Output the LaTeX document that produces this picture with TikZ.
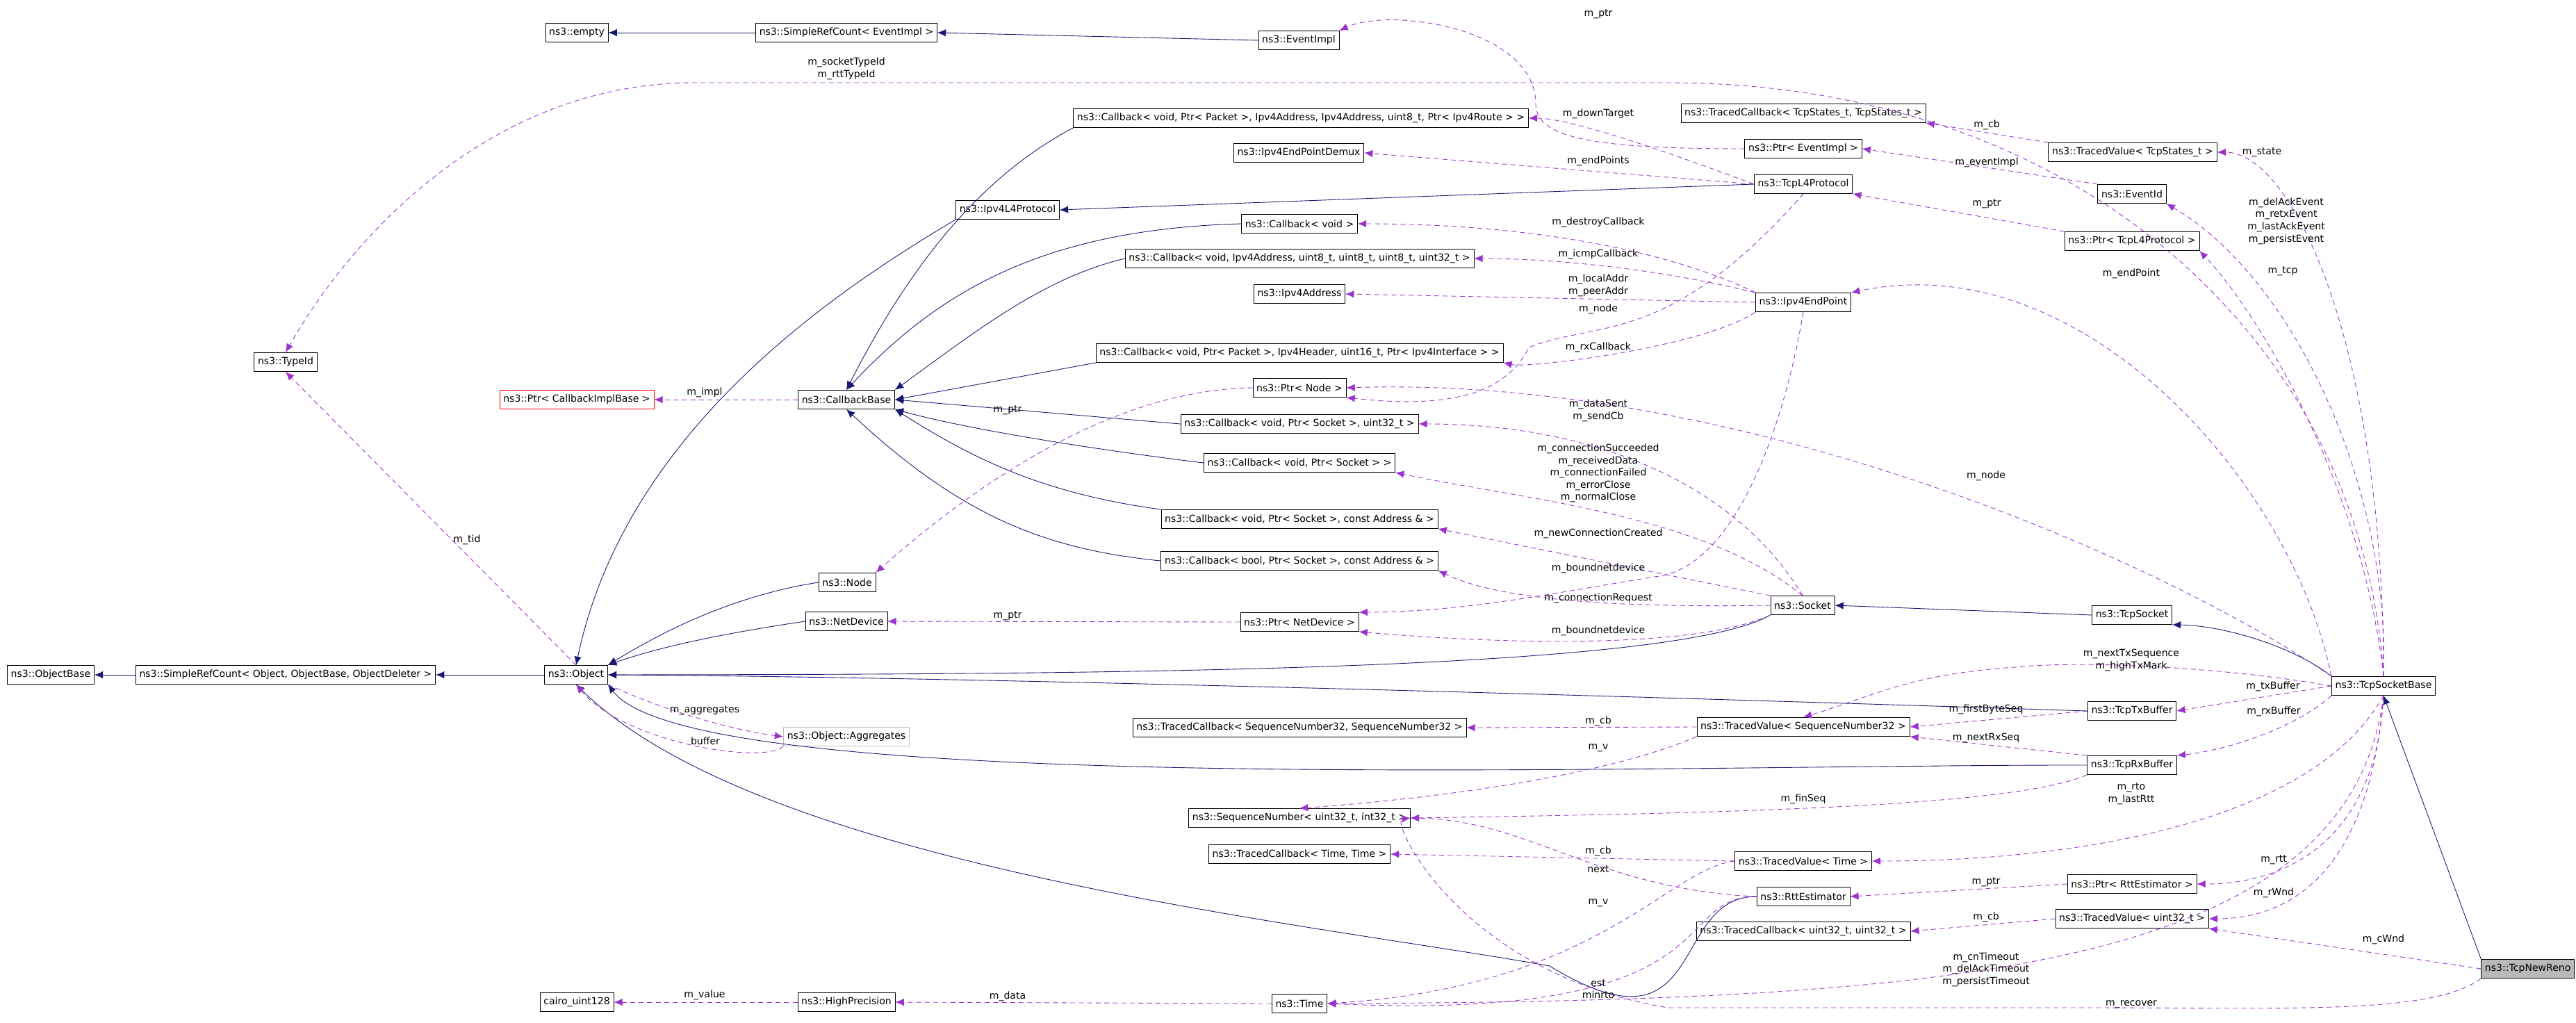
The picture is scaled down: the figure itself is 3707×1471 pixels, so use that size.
\documentclass[tikz,border=0pt]{standalone}
\usepackage{fontspec}
\setmainfont{DejaVu Sans}
\usetikzlibrary{arrows.meta, positioning}

\definecolor{inhblue}{HTML}{191970}
\definecolor{relpurple}{HTML}{9A32CD}

\tikzset{
  cls/.style={draw=black, fill=white, inner xsep=3pt, inner ysep=0pt,
    minimum height=15.5pt, font=\fontsize{8}{9}\selectfont},
  inh/.style={draw=inhblue, -{Latex[length=7pt,width=6pt]}, line width=0.5pt},
  rel/.style={draw=relpurple, dash pattern=on 4pt off 3pt, -{Latex[length=7pt,width=6pt]}, line width=0.5pt},
  lbl/.style={inner sep=0pt, align=center, font=\fontsize{8}{10}\selectfont}
}

\begin{document}
\begin{tikzpicture}[x=0.02cm, y=-0.02cm]
\useasboundingbox (0,0) rectangle (3707,1471);
% classes
\node[cls] (empty) at (830,47) {ns3::empty};
\node[cls] (srcevent) at (1218,47) {ns3::SimpleRefCount< EventImpl >};
\node[cls] (eventimpl) at (1869,58) {ns3::EventImpl};
\node[cls] (typeid) at (411,521) {ns3::TypeId};
\node[cls, draw=red] (ptrcib) at (830,575) {ns3::Ptr< CallbackImplBase >};
\node[cls] (cbase) at (1218,575) {ns3::CallbackBase};
\node[cls] (node) at (1219,838) {ns3::Node};
\node[cls] (netdev) at (1218,894) {ns3::NetDevice};
\node[cls] (objbase) at (73,971) {ns3::ObjectBase};
\node[cls] (srcobj) at (411,971) {ns3::SimpleRefCount< Object, ObjectBase, ObjectDeleter >};
\node[cls] (object) at (829,971) {ns3::Object};
\node[cls, draw=gray!50] (aggr) at (1218,1060) {ns3::Object::Aggregates};
\node[cls] (cairo) at (830,1442) {cairo\_uint128};
\node[cls] (hiprec) at (1218,1442) {ns3::HighPrecision};
\node[cls] (ipv4l4) at (1450,302) {ns3::Ipv4L4Protocol};
\node[cls] (cbdown) at (1872,170) {ns3::Callback< void, Ptr< Packet >, Ipv4Address, Ipv4Address, uint8\_t, Ptr< Ipv4Route > >};
\node[cls] (demux) at (1869,220) {ns3::Ipv4EndPointDemux};
\node[cls] (cbvoid) at (1870,322) {ns3::Callback< void >};
\node[cls] (cbicmp) at (1870,372) {ns3::Callback< void, Ipv4Address, uint8\_t, uint8\_t, uint8\_t, uint32\_t >};
\node[cls] (ipv4addr) at (1870,423) {ns3::Ipv4Address};
\node[cls] (cbrx) at (1870,508) {ns3::Callback< void, Ptr< Packet >, Ipv4Header, uint16\_t, Ptr< Ipv4Interface > >};
\node[cls] (ptrnode) at (1870,558) {ns3::Ptr< Node >};
\node[cls] (cbsent) at (1870,610) {ns3::Callback< void, Ptr< Socket >, uint32\_t >};
\node[cls] (cbsock) at (1870,666) {ns3::Callback< void, Ptr< Socket > >};
\node[cls] (cbaddr) at (1870,747) {ns3::Callback< void, Ptr< Socket >, const Address \& >};
\node[cls] (cbbool) at (1870,807) {ns3::Callback< bool, Ptr< Socket >, const Address \& >};
\node[cls] (ptrnetdev) at (1870,895) {ns3::Ptr< NetDevice >};
\node[cls] (tcbseq) at (1870,1047) {ns3::TracedCallback< SequenceNumber32, SequenceNumber32 >};
\node[cls] (seqnum) at (1870,1177) {ns3::SequenceNumber< uint32\_t, int32\_t >};
\node[cls] (tcbtime) at (1870,1229) {ns3::TracedCallback< Time, Time >};
\node[cls] (time) at (1870,1444) {ns3::Time};
\node[cls] (tcbstate) at (2595,163) {ns3::TracedCallback< TcpStates\_t, TcpStates\_t >};
\node[cls] (ptrevent) at (2595,214) {ns3::Ptr< EventImpl >};
\node[cls] (tcpl4) at (2595,265) {ns3::TcpL4Protocol};
\node[cls] (endpoint) at (2595,435) {ns3::Ipv4EndPoint};
\node[cls] (socket) at (2594,871) {ns3::Socket};
\node[cls] (tvseq) at (2595,1046) {ns3::TracedValue< SequenceNumber32 >};
\node[cls] (tvtime) at (2595,1239) {ns3::TracedValue< Time >};
\node[cls] (rttest) at (2595,1290) {ns3::RttEstimator};
\node[cls] (tcbuint) at (2595,1340) {ns3::TracedCallback< uint32\_t, uint32\_t >};
\node[cls] (tvstate) at (3069,219) {ns3::TracedValue< TcpStates\_t >};
\node[cls] (eventid) at (3068,279) {ns3::EventId};
\node[cls] (ptrtcp) at (3068,347) {ns3::Ptr< TcpL4Protocol >};
\node[cls] (tcpsock) at (3068,885) {ns3::TcpSocket};
\node[cls] (txbuf) at (3068,1023) {ns3::TcpTxBuffer};
\node[cls] (rxbuf) at (3068,1101) {ns3::TcpRxBuffer};
\node[cls] (ptrrtt) at (3068,1272) {ns3::Ptr< RttEstimator >};
\node[cls] (tvuint) at (3068,1322) {ns3::TracedValue< uint32\_t >};
\node[cls] (tsb) at (3430,987) {ns3::TcpSocketBase};
\node[cls, fill=gray!55, anchor=east] (newreno) at (3705,1394) {ns3::TcpNewReno};

% inheritance
\draw[inh] (srcevent) -- (empty);
\draw[inh] (eventimpl.west) -- (srcevent.east);
\draw[inh] (srcobj) -- (objbase);
\draw[inh] (object) -- (srcobj);
\draw[inh] (ipv4l4.south west) .. controls (1200,420) and (900,620) .. (object.north);
\draw[inh] (tcpl4.west) -- (ipv4l4.east);
\draw[inh] (cbdown.south west) .. controls (1400,260) and (1300,400) .. (cbase.north);
\draw[inh] (cbvoid.west) .. controls (1500,330) and (1350,420) .. (cbase.north);
\draw[inh] (cbicmp.west) .. controls (1500,400) and (1400,480) .. (cbase.north east);
\draw[inh] (cbrx.south west) -- (cbase.east);
\draw[inh] (cbsent.west) -- (cbase.east);
\draw[inh] (cbsock.west) .. controls (1600,650) and (1400,620) .. (cbase.south east);
\draw[inh] (cbaddr.north west) .. controls (1500,710) and (1400,660) .. (cbase.south east);
\draw[inh] (cbbool.west) .. controls (1500,790) and (1380,740) .. (cbase.south);
\draw[inh] (node.west) .. controls (1100,850) and (1000,880) .. (object.north east);
\draw[inh] (netdev.west) .. controls (1050,910) and (950,930) .. (object.north east);
\draw[inh] (socket.south west) .. controls (2400,970) and (1500,970) .. (object.east);
\draw[inh] (txbuf.west) .. controls (2600,1010) and (1500,975) .. (object.east);
\draw[inh] (rxbuf.west) .. controls (2400,1100) and (1000,1150) .. (object.south east);
\draw[inh] (rttest.west) .. controls (2400,1290) and (2460,1530) .. (2230,1390) .. controls (1900,1330) and (1100,1250) .. (object.south);
\draw[inh] (tcpsock.west) -- (socket.east);
\draw[inh] (tsb.north west) .. controls (3300,930) and (3200,900) .. (tcpsock.south east);
\draw[inh] (newreno.north west) -- (tsb.south);

% members
\draw[rel] (ptrevent.west) .. controls (2300,214) and (2210,200) .. (2210,150) .. controls (2210,40) and (2000,10) .. (eventimpl.north east);
\node[lbl] (lptrevent) at (2300,20) {m\_ptr};
\draw[rel] (tsb.north) .. controls (3400,500) and (3000,119) .. (2400,119) -- (1000,119) .. controls (700,119) and (500,350) .. (typeid.north);
\node[lbl] (ltypeid) at (1218,99) {m\_socketTypeId\\m\_rttTypeId};
\draw[rel] (tvstate.north west) -- (tcbstate.south east);
\node[lbl] (lcbstate) at (2859,180) {m\_cb};
\draw[rel] (tsb.north) .. controls (3430,500) and (3300,219) .. (tvstate.east);
\node[lbl] (lstate) at (3255,219) {m\_state};
\draw[rel] (tcpl4.west) .. controls (2350,200) and (2250,170) .. (cbdown.east);
\node[lbl] (ldown) at (2300,164) {m\_downTarget};
\draw[rel] (tcpl4.west) -- (demux.east);
\node[lbl] (lendpoints) at (2300,232) {m\_endPoints};
\draw[rel] (eventid.north west) -- (ptrevent.east);
\node[lbl] (leventimpl) at (2859,234) {m\_eventImpl};
\draw[rel] (tsb.north) .. controls (3440,700) and (3300,400) .. (eventid.south east);
\node[lbl] (levents) at (3290,318) {m\_delAckEvent\\m\_retxEvent\\m\_lastAckEvent\\m\_persistEvent};
\draw[rel] (ptrtcp.north west) -- (tcpl4.south east);
\node[lbl] (lptrtcp) at (2859,293) {m\_ptr};
\draw[rel] (tsb.north) .. controls (3400,700) and (3250,450) .. (ptrtcp.south east);
\node[lbl] (ltcp) at (3285,390) {m\_tcp};
\draw[rel] (endpoint.north west) .. controls (2400,360) and (2200,322) .. (cbvoid.east);
\node[lbl] (ldestroy) at (2300,320) {m\_destroyCallback};
\draw[rel] (endpoint.north west) .. controls (2400,390) and (2250,372) .. (cbicmp.east);
\node[lbl] (licmp) at (2300,366) {m\_icmpCallback};
\draw[rel] (endpoint.west) -- (ipv4addr.east);
\node[lbl] (laddr) at (2300,411) {m\_localAddr\\m\_peerAddr};
\draw[rel] (endpoint.south west) .. controls (2450,500) and (2200,530) .. (cbrx.south east);
\node[lbl] (lrx) at (2300,500) {m\_rxCallback};
\draw[rel] (tsb.north west) .. controls (3300,700) and (3000,350) .. (endpoint.north east);
\node[lbl] (lendpoint) at (3067,394) {m\_endPoint};
\draw[rel] (tcpl4.south) .. controls (2400,500) and (2300,460) .. (2200,500) .. controls (2170,560) and (2100,590) .. (ptrnode.south east);
\node[lbl] (lnode1) at (2300,445) {m\_node};
\draw[rel] (tsb.north west) .. controls (3100,800) and (2500,540) .. (ptrnode.east);
\node[lbl] (lnode2) at (2858,685) {m\_node};
\draw[rel] (cbase.west) -- (ptrcib.east);
\node[lbl] (limpl) at (1014,565) {m\_impl};
\draw[rel] (ptrnode.west) .. controls (1600,560) and (1400,700) .. (node.north east);
\node[lbl] (lptrnode) at (1450,590) {m\_ptr};
\draw[rel] (object.north) -- (typeid.south);
\node[lbl] (ltid) at (672,777) {m\_tid};
\draw[rel] (socket.north) .. controls (2500,700) and (2300,610) .. (cbsent.east);
\node[lbl] (lsent) at (2300,591) {m\_dataSent\\m\_sendCb};
\draw[rel] (socket.north) .. controls (2450,740) and (2200,720) .. (cbsock.south east);
\node[lbl] (lconn) at (2300,681) {m\_connectionSucceeded\\m\_receivedData\\m\_connectionFailed\\m\_errorClose\\m\_normalClose};
\draw[rel] (socket.north west) -- (cbaddr.south east);
\node[lbl] (lnewconn) at (2300,768) {m\_newConnectionCreated};
\draw[rel] (socket.west) .. controls (2300,875) and (2150,860) .. (cbbool.south east);
\node[lbl] (lconnreq) at (2300,861) {m\_connectionRequest};
\draw[rel] (endpoint.south) .. controls (2570,600) and (2500,820) .. (2380,830) .. controls (2200,860) and (2100,880) .. (ptrnetdev.north east);
\node[lbl] (lbound1) at (2300,818) {m\_boundnetdevice};
\draw[rel] (socket.south west) .. controls (2450,930) and (2200,930) .. (ptrnetdev.south east);
\node[lbl] (lbound2) at (2300,908) {m\_boundnetdevice};
\draw[rel] (ptrnetdev.west) -- (netdev.east);
\node[lbl] (lptrnet) at (1450,886) {m\_ptr};
\draw[rel] (object.south east) .. controls (950,1020) and (1050,1050) .. (aggr.west);
\node[lbl] (laggr) at (1014,1022) {m\_aggregates};
\draw[rel] (aggr.south west) .. controls (1100,1100) and (900,1070) .. (object.south);
\node[lbl] (lbuffer) at (1015,1066) {buffer};
\draw[rel] (tvseq.west) -- (tcbseq.east);
\node[lbl] (lcbseq) at (2300,1038) {m\_cb};
\draw[rel] (tsb.west) .. controls (3200,960) and (3000,950) .. (2900,960) .. controls (2750,970) and (2700,1000) .. (tvseq.north);
\node[lbl] (lnexttx) at (3067,950) {m\_nextTxSequence\\m\_highTxMark};
\draw[rel] (txbuf.west) -- (tvseq.east);
\node[lbl] (lfirst) at (2858,1021) {m\_firstByteSeq};
\draw[rel] (rxbuf.north west) -- (tvseq.south east);
\node[lbl] (lnextrx) at (2858,1062) {m\_nextRxSeq};
\draw[rel] (tsb.west) -- (txbuf.east);
\node[lbl] (ltxbuf) at (3271,988) {m\_txBuffer};
\draw[rel] (tsb.south west) .. controls (3300,1050) and (3200,1080) .. (rxbuf.north east);
\node[lbl] (lrxbuf) at (3272,1024) {m\_rxBuffer};
\draw[rel] (tvseq.south west) .. controls (2300,1120) and (2050,1150) .. (seqnum.north);
\node[lbl] (lvseq) at (2300,1076) {m\_v};
\draw[rel] (rxbuf.south west) .. controls (2900,1160) and (2500,1170) .. (seqnum.east);
\node[lbl] (lfin) at (2595,1150) {m\_finSeq};
\draw[rel] (newreno.south west) .. controls (3500,1460) and (3300,1450) .. (3000,1450) -- (2400,1450) .. controls (2100,1400) and (2000,1180) .. (seqnum.east);
\node[lbl] (lrecover) at (3067,1445) {m\_recover};
\draw[rel] (tvtime.west) -- (tcbtime.east);
\node[lbl] (lcbtime) at (2300,1225) {m\_cb};
\draw[rel] (tsb.south) .. controls (3330,1180) and (3000,1239) .. (tvtime.east);
\node[lbl] (lrto) at (3067,1142) {m\_rto\\m\_lastRtt};
\draw[rel] (tvtime.west) .. controls (2400,1250) and (2300,1420) .. (time.east);
\node[lbl] (lvtime) at (2300,1299) {m\_v};
\draw[rel] (rttest.west) .. controls (2300,1280) and (2200,1180) .. (seqnum.east);
\node[lbl] (lnext) at (2300,1251) {next};
\draw[rel] (rttest.west) .. controls (2400,1290) and (2500,1470) .. (time.east);
\node[lbl] (lest) at (2300,1423) {est\\minrto};
\draw[rel] (ptrrtt.west) -- (rttest.east);
\node[lbl] (lptrrtt) at (2858,1269) {m\_ptr};
\draw[rel] (tsb.south) .. controls (3420,1200) and (3300,1272) .. (ptrrtt.east);
\node[lbl] (lrtt) at (3272,1237) {m\_rtt};
\draw[rel] (tsb.south) .. controls (3410,1250) and (3300,1322) .. (tvuint.east);
\node[lbl] (lrwnd) at (3272,1285) {m\_rWnd};
\draw[rel] (tvuint.west) -- (tcbuint.east);
\node[lbl] (lcbuint) at (2858,1320) {m\_cb};
\draw[rel] (newreno.west) -- (tvuint.south east);
\node[lbl] (lcwnd) at (3430,1352) {m\_cWnd};
\draw[rel] (tsb.south) .. controls (3380,1400) and (2800,1440) .. (time.east);
\node[lbl] (ltimeout) at (2858,1395) {m\_cnTimeout\\m\_delAckTimeout\\m\_persistTimeout};
\draw[rel] (time.west) -- (hiprec.east);
\node[lbl] (ldata) at (1450,1434) {m\_data};
\draw[rel] (hiprec.west) -- (cairo.east);
\node[lbl] (lvalue) at (1014,1432) {m\_value};
\end{tikzpicture}
\end{document}
